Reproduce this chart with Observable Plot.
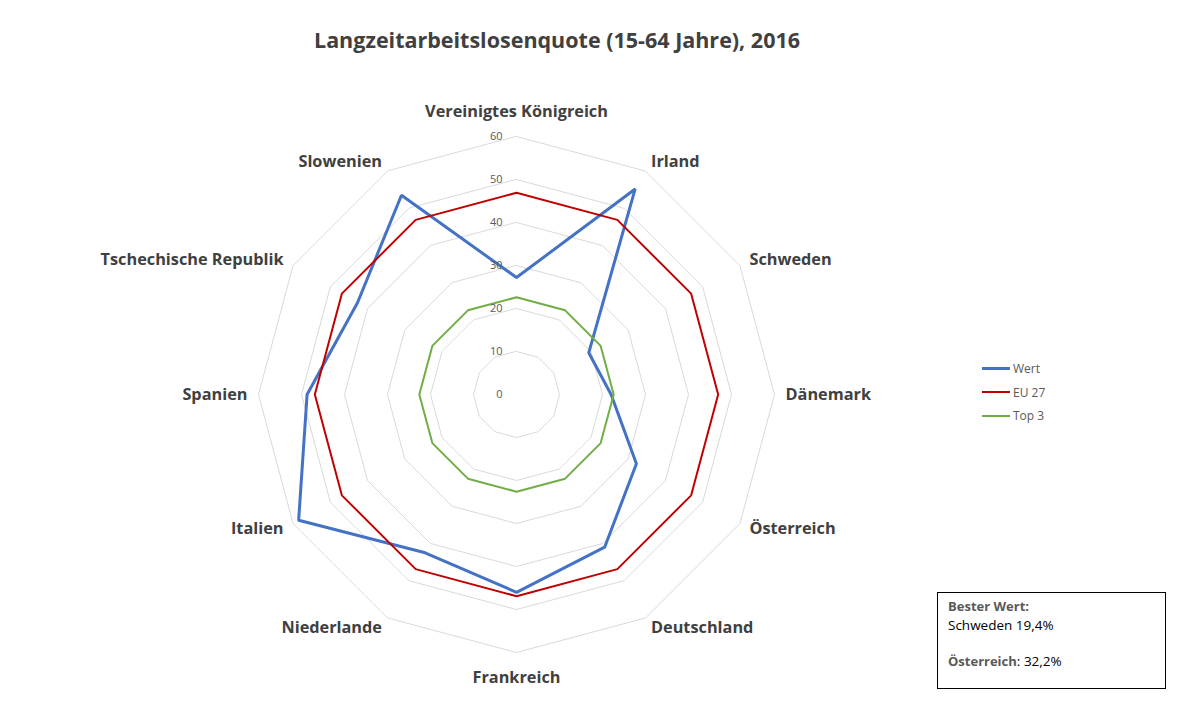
<!DOCTYPE html>
<html>
<head>
<meta charset="utf-8">
<script src="https://cdn.jsdelivr.net/npm/d3@7"></script>
<script src="https://cdn.jsdelivr.net/npm/@observablehq/plot@0.6"></script>
<style>
  html, body { margin: 0; padding: 0; background: #fff; }
  #wrap { position: relative; width: 1200px; height: 721px; font-family: "Open Sans", sans-serif; overflow: hidden; }
  #title { height: 70px; width: 1114px; text-align: center; font-weight: 700; font-size: 21.5px; color: #404040; line-height: 80px; }
  #chart svg { display: block; }
  #legend { position: absolute; left: 982px; top: 357px; font-size: 12px; color: #595959; }
  .li { height: 23.5px; display: flex; align-items: center; }
  .li span.sw { display: inline-block; width: 28px; margin-right: 3px; }
  #box { position: absolute; left: 937px; top: 592px; width: 227px; height: 95px; border: 1px solid #000; font-size: 13.5px; padding: 0; }
  #box .t { position: absolute; left: 10px; }
  .b { font-weight: 700; color: #595959; font-size: 13px; }
</style>
</head>
<body>
<div id="wrap">
  <div id="title">Langzeitarbeitslosenquote (15-64 Jahre), 2016</div>
  <div id="chart"></div>
  <div id="legend"></div>
  <div id="box">
    <div class="t b" style="top:4px">Bester Wert:</div>
    <div class="t" style="top:23px; color:#000">Schweden 19,4%</div>
    <div class="t" style="top:59px; color:#000"><span class="b">Österreich</span>: 32,2%</div>
  </div>
</div>
<script>
const categories = ["Vereinigtes Königreich", "Irland", "Schweden", "Dänemark", "Österreich", "Deutschland",
  "Frankreich", "Niederlande", "Italien", "Spanien", "Tschechische Republik", "Slowenien"];
const wert = [27.2, 55.2, 19.4, 22.0, 32.2, 41.0, 46.0, 42.5, 58.5, 48.7, 42.7, 53.5];
const eu27 = [46.9, 46.9, 46.9, 46.9, 46.9, 46.9, 46.9, 46.9, 46.9, 46.9, 46.9, 46.9];
const top3 = [22.6, 22.6, 22.6, 22.6, 22.6, 22.6, 22.6, 22.6, 22.6, 22.6, 22.6, 22.6];
const levels = [0, 10, 20, 30, 40, 50, 60];
const tickLabels = ["0", "10", "20", "30", "40", "50", "60"];
const seriesNames = ["Wert", "EU 27", "Top 3"];
const seriesColors = ["#4472C4", "#C00000", "#70AD47"];
const seriesWidths = [3, 2, 2];

const n = categories.length;
const maxV = 60;
const ang = i => i * 2 * Math.PI / n;
const pt = (i, r) => ({x: r * Math.sin(ang(i)), y: r * Math.cos(ang(i))});

// pixel geometry: 4.3 px per unit, center at (516, 324) inside SVG
const W = 1200, H = 651, k = 4.3, cx = 516, cy = 324;

const gridRows = [];
levels.filter(l => l > 0).forEach(l => categories.forEach((c, i) => gridRows.push({level: l, ...pt(i, l)})));

const seriesData = [wert, eu27, top3].map((vals, s) =>
  vals.map((v, i) => ({series: seriesNames[s], cat: categories[i], ...pt(i, v)})));

const marks = [];
marks.push(Plot.line(gridRows, {x: "x", y: "y", z: "level", curve: "linear-closed", stroke: "#D9D9D9", strokeWidth: 1}));
seriesData.forEach((d, s) => marks.push(Plot.line(d, {x: "x", y: "y", curve: "linear-closed",
  stroke: seriesColors[s], strokeWidth: seriesWidths[s], strokeLinejoin: "miter"})));
marks.push(Plot.text(levels.map((l, j) => ({x: 0, y: l, t: tickLabels[j]})),
  {x: "x", y: "y", text: "t", textAnchor: "end", dx: -14, fill: "#595959", fontSize: 11}));
categories.forEach((c, i) => {
  const s = Math.sin(ang(i)), co = Math.cos(ang(i));
  const anchor = Math.abs(s) < 0.01 ? "middle" : (s > 0 ? "start" : "end");
  const dx = Math.abs(s) < 0.01 ? 0 : 11 * s;
  const dy = Math.abs(co) > 0.99 ? -25 * Math.sign(co) : -11 * co;
  marks.push(Plot.text([{...pt(i, maxV), c}], {x: "x", y: "y", text: "c", textAnchor: anchor, dx, dy,
    fill: "#404040", fontWeight: 700, fontSize: 16.3}));
});

const chart = Plot.plot({
  width: W, height: H, margin: 0,
  x: {domain: [-cx / k, (W - cx) / k], axis: null},
  y: {domain: [-(H - cy) / k, cy / k], axis: null},
  style: {fontFamily: "Open Sans, sans-serif", background: "white"},
  marks
});
document.getElementById("chart").appendChild(chart);

const lg = document.getElementById("legend");
seriesNames.forEach((nm, s) => {
  const d = document.createElement("div");
  d.className = "li";
  d.innerHTML = `<span class="sw" style="border-top:${seriesWidths[s]}px solid ${seriesColors[s]}"></span>${nm}`;
  lg.appendChild(d);
});
</script>
</body>
</html>
